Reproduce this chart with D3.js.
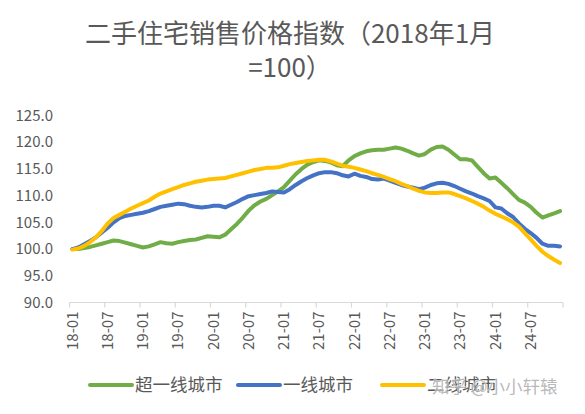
<!DOCTYPE html>
<html>
<head>
<meta charset="utf-8">
<script src="https://cdn.jsdelivr.net/npm/d3@7"></script>
<style>
  body { margin: 0; background: #fff; }
  svg { display: block; font-family: "Noto Sans CJK SC", "Noto Sans", sans-serif; }
</style>
</head>
<body>
<svg id="canvas" width="585" height="414"></svg>
<script>
// monthly index values, 2018-01 .. 2024-12 (2018-01 = 100)
const superTier1 = [
  100.0, 100.0, 100.2, 100.4, 100.7, 101.0, 101.3, 101.6, 101.5, 101.2, 100.9, 100.6,
  100.3, 100.5, 100.9, 101.3, 101.1, 101.0, 101.3, 101.5, 101.7, 101.8, 102.1, 102.4,
  102.3, 102.2, 102.7, 103.7, 104.7, 105.9, 107.2, 108.2, 108.9, 109.4, 110.1, 110.8,
  111.6, 112.8, 114.0, 115.0, 115.8, 116.3, 116.6, 116.5, 116.2, 115.7, 115.5, 116.6,
  117.4, 117.9, 118.3, 118.5, 118.6, 118.6, 118.8, 119.0, 118.8, 118.4, 117.9, 117.5,
  117.8, 118.6, 119.1, 119.2, 118.6, 117.7, 116.8, 116.8, 116.6, 115.4, 114.2, 113.2,
  113.4, 112.4, 111.4, 110.3, 109.2, 108.7, 107.9, 106.8, 105.9, 106.3, 106.7, 107.1
]
const tier1 = [
  100.0, 100.3, 100.9, 101.5, 102.2, 103.1, 104.0, 105.0, 105.8, 106.2, 106.4, 106.6,
  106.8, 107.1, 107.5, 107.9, 108.1, 108.3, 108.5, 108.4, 108.1, 107.9, 107.8, 107.9,
  108.1, 108.1, 107.8, 108.3, 108.8, 109.4, 109.9, 110.1, 110.3, 110.5, 110.8, 110.7,
  110.6, 111.2, 112.0, 112.7, 113.3, 113.8, 114.2, 114.4, 114.4, 114.2, 113.8, 113.6,
  114.1, 113.7, 113.5, 113.1, 113.0, 113.2, 112.8, 112.4, 112.0, 111.7, 111.5, 111.2,
  111.5, 112.0, 112.3, 112.4, 112.2, 111.8, 111.3, 110.8, 110.4, 109.9, 109.5, 109.0,
  107.8, 107.6, 106.7, 106.0, 104.8, 103.8, 103.0, 102.1, 101.0, 100.6, 100.6, 100.5
]
const tier2 = [
  99.9, 100.1, 100.6, 101.3, 102.2, 103.4, 104.8, 105.8, 106.4, 107.0, 107.6, 108.1,
  108.6, 109.1, 109.8, 110.4, 110.8, 111.2, 111.6, 112.0, 112.3, 112.6, 112.8, 113.0,
  113.1, 113.2, 113.3, 113.6, 113.9, 114.2, 114.5, 114.8, 115.0, 115.2, 115.2, 115.3,
  115.6, 115.9, 116.1, 116.3, 116.5, 116.6, 116.7, 116.7, 116.4, 116.0, 115.6, 115.4,
  115.2, 114.9, 114.6, 114.2, 113.9, 113.5, 113.1, 112.7, 112.2, 111.8, 111.3, 110.9,
  110.6, 110.5, 110.5, 110.6, 110.6, 110.3, 109.9, 109.5, 109.0, 108.5, 107.9, 107.2,
  106.6, 106.1, 105.6, 105.0, 104.2, 103.0, 101.8, 100.6, 99.5, 98.7, 98.0, 97.4
]
const years = ['18', '19', '20', '21', '22', '23', '24']
const monthNames = ['01', '02', '03', '04', '05', '06', '07', '08', '09', '10', '11', '12']
const yTicks = [90, 95, 100, 105, 110, 115, 120, 125]
const seriesNames = ['超一线城市', '一线城市', '二线城市']
const seriesColors = ['#70ad47', '#4472c4', '#ffc000']
const titleLines = ['二手住宅销售价格指数（2018年1月', '=100）']

// category labels like 18-01
const months = []
years.forEach(y => monthNames.forEach(m => months.push(`${y}-${m}`)))
const series = [superTier1, tier1, tier2]

const canvas = d3.select('#canvas')
const textColor = '#595959'

const x = d3.scaleBand().domain(months).range([69.5, 563]).padding(0)
const y = d3.scaleLinear().domain([90, 125]).range([302.5, 115.5])

// title
canvas.selectAll('.title')
  .data(titleLines)
  .enter()
  .append('text')
  .attr('class', 'title')
  .attr('x', 290)
  .attr('y', (d, i) => 43 + i * 34)
  .attr('text-anchor', 'middle')
  .attr('font-size', 26)
  .attr('fill', textColor)
  .text(d => d)

// y labels (no axis line)
canvas.selectAll('.ylab')
  .data(yTicks)
  .enter()
  .append('text')
  .attr('class', 'ylab')
  .attr('x', 53)
  .attr('y', d => y(d))
  .attr('dy', '0.35em')
  .attr('text-anchor', 'end')
  .attr('font-size', 15)
  .attr('fill', textColor)
  .text(d => d.toFixed(1))

// x axis line + ticks between categories
const tickMonths = months.filter((d, i) => i % 6 === 0)
canvas.append('line')
  .attr('x1', x.range()[0]).attr('x2', x.range()[1])
  .attr('y1', y(90)).attr('y2', y(90))
  .style('stroke', '#d9d9d9').style('stroke-width', 1.2)
canvas.selectAll('.xtick')
  .data(tickMonths.map(m => x(m)).concat([x.range()[1]]))
  .enter()
  .append('line')
  .attr('class', 'xtick')
  .attr('x1', d => d).attr('x2', d => d)
  .attr('y1', y(90)).attr('y2', y(90) + 5)
  .style('stroke', '#d9d9d9').style('stroke-width', 1.2)

canvas.selectAll('.xlab')
  .data(tickMonths)
  .enter()
  .append('text')
  .attr('class', 'xlab')
  .attr('transform', d => `translate(${x(d) + x.bandwidth() / 2},${y(90) + 9}) rotate(-90)`)
  .attr('dy', '0.35em')
  .attr('text-anchor', 'end')
  .attr('font-size', 15)
  .attr('fill', textColor)
  .text(d => d)

// lines
const line = d3.line()
  .x((d, i) => x(months[i]) + x.bandwidth() / 2)
  .y(d => y(d))
  .curve(d3.curveLinear)

series.forEach((s, k) => {
  canvas.append('path')
    .datum(s)
    .attr('d', line)
    .attr('fill', 'none')
    .style('stroke', seriesColors[k])
    .style('stroke-width', 4)
    .style('stroke-linejoin', 'round')
    .style('stroke-linecap', 'round')
})

// legend
const legendX = [90, 238, 382]
seriesNames.forEach((name, k) => {
  const g = canvas.append('g').attr('transform', `translate(${legendX[k]},385)`)
  g.append('line')
    .attr('x1', 0).attr('x2', 42).attr('y1', 0).attr('y2', 0)
    .style('stroke', seriesColors[k]).style('stroke-width', 4)
    .style('stroke-linecap', 'round')
  g.append('text')
    .attr('x', 45)
    .attr('dy', '0.35em')
    .attr('font-size', 17.5)
    .attr('fill', textColor)
    .text(name)
})

// watermark (sits over the last legend entry, as in the source image)
canvas.append('text')
  .attr('x', 432)
  .attr('y', 387)
  .attr('dy', '0.35em')
  .attr('font-size', 17.5)
  .attr('fill', '#9a9a9a')
  .attr('fill-opacity', 0.7)
  .style('stroke', '#fff')
  .style('stroke-width', 1.2)
  .style('stroke-opacity', 0.6)
  .style('paint-order', 'stroke')
  .text('知乎 @小小轩辕')
</script>
</body>
</html>
